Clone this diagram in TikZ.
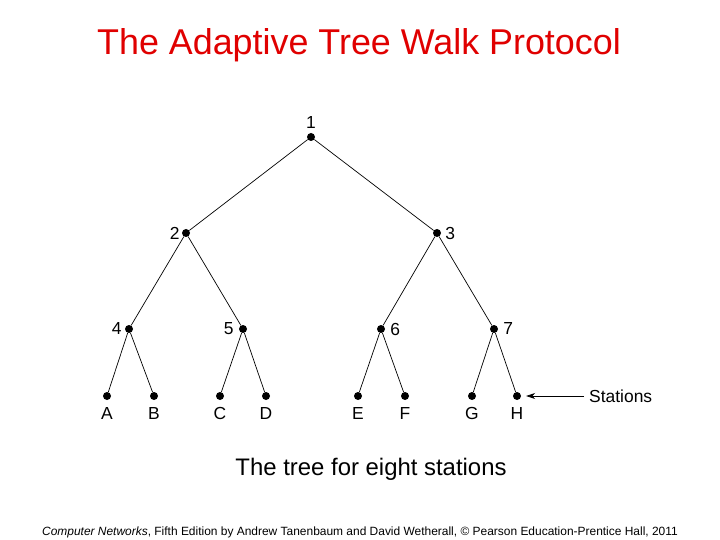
\documentclass[tikz,border=0pt]{standalone}
\usepackage{fontspec}
\setmainfont{Liberation Sans}
\usetikzlibrary{positioning,arrows.meta}
\tikzset{
  dot/.style={circle,fill,inner sep=0pt,minimum size=8bp},
  lbl/.style={font=\fontsize{17.5}{19}\selectfont,inner sep=1bp},
  edge/.style={draw,line width=0.7bp}
}
\begin{document}
\begin{tikzpicture}[x=1bp,y=-1bp]
      \useasboundingbox (0,0) rectangle (720,540);
      % Title and captions
      \node (title) at (359,45) {\color[HTML]{E00000}\fontsize{36}{40}\selectfont The Adaptive Tree Walk Protocol};
      \node (caption) at (371,469) {\fontsize{24}{28}\selectfont The tree for eight stations};
      \node (footer) at (360,532) {\fontsize{12}{14}\selectfont \textit{Computer Networks}, Fifth Edition by Andrew Tanenbaum and David Wetherall, \textcopyright{} Pearson Education-Prentice Hall, 2011};

      % Inner nodes
      \node[dot] (n1) at (311,137) {};
      \node[dot] (n2) at (186,233) {};
      \node[dot] (n3) at (437,233) {};
      \node[dot] (n4) at (129,329) {};
      \node[dot] (n5) at (243,329) {};
      \node[dot] (n6) at (381,329) {};
      \node[dot] (n7) at (494,329) {};

      % Stations
      \foreach \name/\x in {A/107,B/154,C/220,D/266,E/358,F/405,G/472,H/517}
        \node[dot] (s\name) at (\x,396) {};
      \foreach \name in {A,B,C,D,E,F,G,H}
        \node[lbl,below=6bp of s\name] (l\name) {\name};

      % Node numbers
      \node[lbl,above=3bp of n1] (l1) {1};
      \node[lbl,left=1bp of n2] (l2) {2};
      \node[lbl,right=3bp of n3] (l3) {3};
      \node[lbl,left=2bp of n4] (l4) {4};
      \node[lbl,left=4bp of n5] (l5) {5};
      \node[lbl,right=4bp of n6] (l6) {6};
      \node[lbl,right=4bp of n7] (l7) {7};

      % Edges
      \foreach \a/\b in {n1/n2,n1/n3,n2/n4,n2/n5,n3/n6,n3/n7,
                         n4/sA,n4/sB,n5/sC,n5/sD,n6/sE,n6/sF,n7/sG,n7/sH}
        \path[edge] (\a) -- (\b);

      % Stations arrow
      \node[lbl,anchor=west] (stations) at (588,396) {Stations};
      \draw[line width=0.7bp,-{Stealth[length=9bp,width=6bp]}] ([xshift=-4bp]stations.west) -- ([xshift=5bp]sH.east);
\end{tikzpicture}
\end{document}
